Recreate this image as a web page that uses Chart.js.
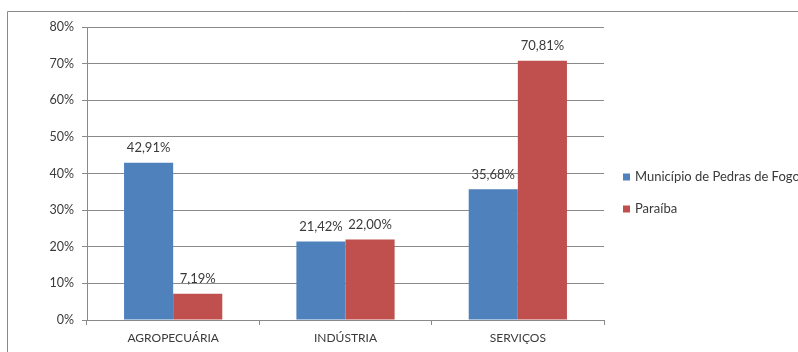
<!DOCTYPE html>
<html>
<head>
<meta charset="utf-8">
<script src="https://cdn.jsdelivr.net/npm/chart.js@4"></script>
<style>
  html, body { margin: 0; padding: 0; background: #fff; overflow: hidden; }
  #wrap { width: 798px; height: 352px; position: relative; }
</style>
</head>
<body>
<div id="wrap"><canvas id="setorChart" width="798" height="352"></canvas></div>
<script>
// Participação dos setores no PIB: município x estado
var setores = ['AGROPECUÁRIA', 'INDÚSTRIA', 'SERVIÇOS'];
var municipio = [42.91, 21.42, 35.68];
var paraiba = [7.19, 22.00, 70.81];
var serieNomes = ['Município de Pedras de Fogo', 'Paraíba'];
var cores = ['#4F81BD', '#C0504D'];

var fonte = 'Lato, "Open Sans", sans-serif';
var corTexto = '#3a3a3a';

function pct(v) {
    return v.toFixed(2).replace('.', ',') + '%';
}

// moldura cinza, rótulos de valor e legenda desenhados à mão
var extras = {
    id: 'extras',
    beforeDraw: function (chart) {
        var c = chart.ctx;
        c.save();
        c.strokeStyle = '#8a8a8a';
        c.lineWidth = 1;
        c.beginPath();
        c.moveTo(7.5, 360);
        c.lineTo(7.5, 11.5);
        c.lineTo(800, 11.5);
        c.stroke();
        c.restore();
    },
    afterDatasetsDraw: function (chart) {
        var c = chart.ctx;
        c.save();
        c.font = '13px ' + fonte;
        c.fillStyle = corTexto;
        c.textAlign = 'center';
        c.textBaseline = 'middle';
        chart.data.datasets.forEach(function (ds, i) {
            chart.getDatasetMeta(i).data.forEach(function (bar, j) {
                c.fillText(pct(ds.data[j]), bar.x, bar.y - 15);
            });
        });
        c.restore();
    },
    afterDraw: function (chart) {
        var c = chart.ctx;
        c.save();
        c.font = '13px ' + fonte;
        c.textBaseline = 'middle';
        c.textAlign = 'left';
        chart.data.datasets.forEach(function (ds, i) {
            var y = 177 + i * 32;
            c.fillStyle = ds.backgroundColor;
            c.fillRect(623, y - 3.5, 7, 7);
            c.fillStyle = corTexto;
            c.fillText(ds.label, 635, y);
        });
        c.restore();
    }
};

new Chart(document.getElementById('setorChart').getContext('2d'), {
    type: 'bar',
    data: {
        labels: setores,
        datasets: [
            { label: serieNomes[0], data: municipio, backgroundColor: cores[0] },
            { label: serieNomes[1], data: paraiba, backgroundColor: cores[1] }
        ]
    },
    options: {
        responsive: false,
        animation: false,
        layout: { padding: { left: 0, top: 27, right: 194, bottom: 0 } },
        datasets: { bar: { categoryPercentage: 0.57, barPercentage: 1 } },
        plugins: {
            legend: { display: false },
            tooltip: { enabled: false }
        },
        scales: {
            x: {
                grid: { drawOnChartArea: false, drawTicks: true, tickLength: 5, color: '#8a8a8a' },
                border: { display: false },
                ticks: { color: corTexto, font: { family: fonte, size: 12 }, padding: 6 },
                afterFit: function (s) { s.height = 32; }
            },
            y: {
                min: 0,
                max: 80,
                grid: { color: '#8a8a8a', tickLength: 5 },
                border: { display: true, color: '#8a8a8a' },
                ticks: {
                    stepSize: 10,
                    color: corTexto,
                    font: { family: fonte, size: 12.5 },
                    padding: 8,
                    callback: function (v) { return v + '%'; }
                },
                afterFit: function (s) { s.width = 87; }
            }
        }
    },
    plugins: [extras]
});
</script>
</body>
</html>
